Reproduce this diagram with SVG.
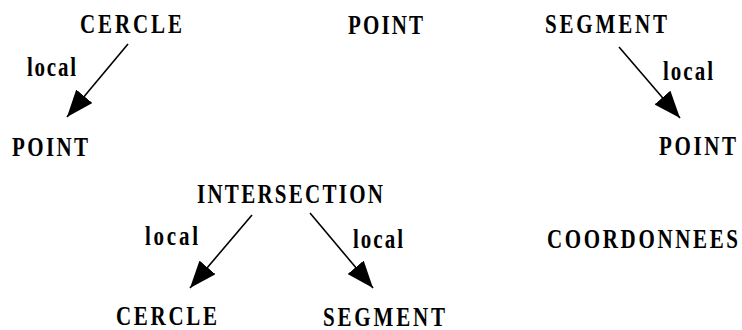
<svg xmlns="http://www.w3.org/2000/svg" width="742" height="330" viewBox="0 0 742 330">
<defs>
<style>
.t{font-family:"Liberation Serif","Times New Roman",serif;font-weight:bold;font-size:21px;fill:#000}
.c{stroke:#000;stroke-width:1.6;fill:none;marker-end:url(#ah)}
</style>
<marker id="ah" viewBox="0 0 27 21" refX="27" refY="10.5" markerWidth="27" markerHeight="21" markerUnits="userSpaceOnUse" orient="auto">
<path d="M0,0 L27,10.5 L0,21 z" fill="#000"/>
</marker>
</defs>
<rect width="742" height="330" fill="#fff"/>
<g id="n-cercle1"><text class="t" transform="translate(80,33) scale(1,1.25)" textLength="102" lengthAdjust="spacing">CERCLE</text></g>
<g id="n-point-top"><text class="t" transform="translate(348,34) scale(1,1.25)" textLength="75" lengthAdjust="spacing">POINT</text></g>
<g id="n-segment1"><text class="t" transform="translate(545,33) scale(1,1.25)" textLength="122" lengthAdjust="spacing">SEGMENT</text></g>
<g id="n-point-left"><text class="t" transform="translate(12,156) scale(1,1.25)" textLength="76" lengthAdjust="spacing">POINT</text></g>
<g id="n-point-right"><text class="t" transform="translate(659,155) scale(1,1.25)" textLength="77" lengthAdjust="spacing">POINT</text></g>
<g id="n-intersection"><text class="t" transform="translate(197,203) scale(1,1.25)" textLength="186" lengthAdjust="spacing">INTERSECTION</text></g>
<g id="n-coordonnees"><text class="t" transform="translate(547,248) scale(1,1.25)" textLength="191" lengthAdjust="spacing">COORDONNEES</text></g>
<g id="n-cercle2"><text class="t" transform="translate(116,325) scale(1,1.25)" textLength="101" lengthAdjust="spacing">CERCLE</text></g>
<g id="n-segment2"><text class="t" transform="translate(323,326) scale(1,1.25)" textLength="122" lengthAdjust="spacing">SEGMENT</text></g>
<g id="connectors">
<line class="c" x1="128" y1="44" x2="67" y2="117"/>
<line class="c" x1="619" y1="47" x2="680" y2="118"/>
<line class="c" x1="252" y1="215" x2="190" y2="288"/>
<line class="c" x1="310" y1="213" x2="373" y2="288"/>
<text class="t" transform="translate(27,76) scale(1,1.25)" textLength="49" lengthAdjust="spacing">local</text>
<text class="t" transform="translate(663,80) scale(1,1.25)" textLength="50" lengthAdjust="spacing">local</text>
<text class="t" transform="translate(145,245) scale(1,1.25)" textLength="53" lengthAdjust="spacing">local</text>
<text class="t" transform="translate(353,248) scale(1,1.25)" textLength="50" lengthAdjust="spacing">local</text>
</g>
</svg>
